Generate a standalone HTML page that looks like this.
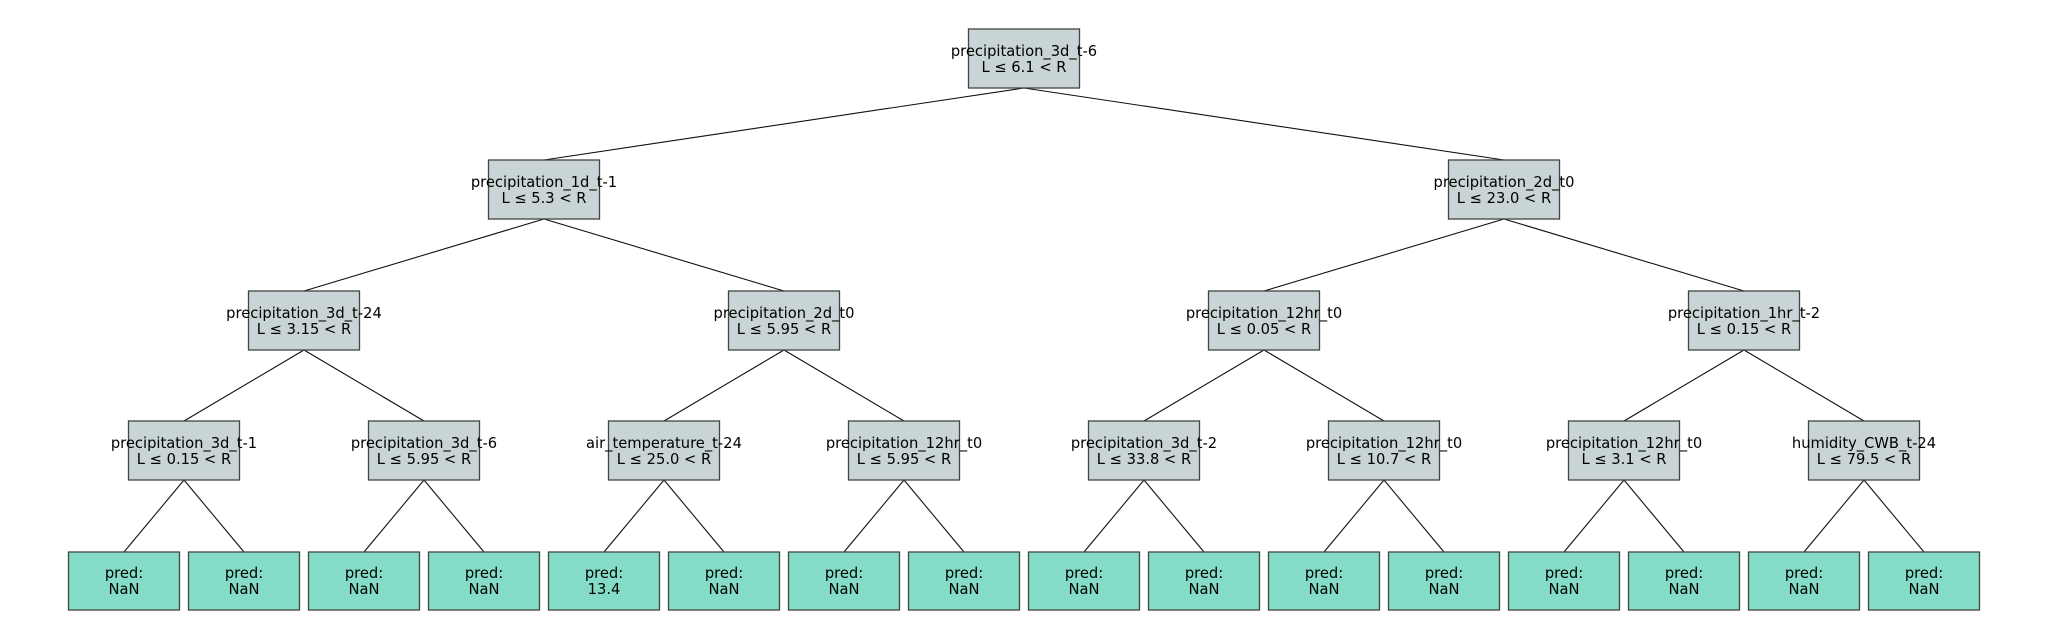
<!DOCTYPE html>
<html><head><meta charset="utf-8"><style>
html,body{margin:0;padding:0;background:#fff;}
svg{display:block;}
text{font-family:"DejaVu Sans","Liberation Sans",sans-serif;font-size:14.7px;fill:#000;text-anchor:middle;}
.g{fill:#c8d4d5;stroke:#444;stroke-width:1.3;}
.l{fill:#85dcc6;stroke:#444;stroke-width:1.3;}
line{stroke:#111;stroke-width:1.1;}
</style></head><body>
<svg width="2048" height="640" viewBox="0 0 2048 640">
<g>
<line x1="1024" y1="88" x2="544" y2="160"/><line x1="1024" y1="88" x2="1504" y2="160"/>
<line x1="544" y1="219" x2="304" y2="291"/><line x1="544" y1="219" x2="784" y2="291"/>
<line x1="1504" y1="219" x2="1264" y2="291"/><line x1="1504" y1="219" x2="1744" y2="291"/>
<line x1="304" y1="350" x2="184" y2="421"/><line x1="304" y1="350" x2="424" y2="421"/>
<line x1="784" y1="350" x2="664" y2="421"/><line x1="784" y1="350" x2="904" y2="421"/>
<line x1="1264" y1="350" x2="1144" y2="421"/><line x1="1264" y1="350" x2="1384" y2="421"/>
<line x1="1744" y1="350" x2="1624" y2="421"/><line x1="1744" y1="350" x2="1864" y2="421"/>
<line x1="184" y1="480" x2="124" y2="552"/><line x1="184" y1="480" x2="244" y2="552"/>
<line x1="424" y1="480" x2="364" y2="552"/><line x1="424" y1="480" x2="484" y2="552"/>
<line x1="664" y1="480" x2="604" y2="552"/><line x1="664" y1="480" x2="724" y2="552"/>
<line x1="904" y1="480" x2="844" y2="552"/><line x1="904" y1="480" x2="964" y2="552"/>
<line x1="1144" y1="480" x2="1084" y2="552"/><line x1="1144" y1="480" x2="1204" y2="552"/>
<line x1="1384" y1="480" x2="1324" y2="552"/><line x1="1384" y1="480" x2="1444" y2="552"/>
<line x1="1624" y1="480" x2="1564" y2="552"/><line x1="1624" y1="480" x2="1684" y2="552"/>
<line x1="1864" y1="480" x2="1804" y2="552"/><line x1="1864" y1="480" x2="1924" y2="552"/>
</g>
<!-- internal nodes -->
<rect class="g" x="968.5" y="29" width="111" height="59"/><text x="1024" y="56">precipitation_3d_t-6</text><text x="1024" y="72">L ≤ 6.1 &lt; R</text>
<rect class="g" x="488.5" y="160" width="111" height="59"/><text x="544" y="187">precipitation_1d_t-1</text><text x="544" y="203">L ≤ 5.3 &lt; R</text>
<rect class="g" x="1448.5" y="160" width="111" height="59"/><text x="1504" y="187">precipitation_2d_t0</text><text x="1504" y="203">L ≤ 23.0 &lt; R</text>
<rect class="g" x="248.5" y="291" width="111" height="59"/><text x="304" y="318">precipitation_3d_t-24</text><text x="304" y="334">L ≤ 3.15 &lt; R</text>
<rect class="g" x="728.5" y="291" width="111" height="59"/><text x="784" y="318">precipitation_2d_t0</text><text x="784" y="334">L ≤ 5.95 &lt; R</text>
<rect class="g" x="1208.5" y="291" width="111" height="59"/><text x="1264" y="318">precipitation_12hr_t0</text><text x="1264" y="334">L ≤ 0.05 &lt; R</text>
<rect class="g" x="1688.5" y="291" width="111" height="59"/><text x="1744" y="318">precipitation_1hr_t-2</text><text x="1744" y="334">L ≤ 0.15 &lt; R</text>
<rect class="g" x="128.5" y="421" width="111" height="59"/><text x="184" y="448">precipitation_3d_t-1</text><text x="184" y="464">L ≤ 0.15 &lt; R</text>
<rect class="g" x="368.5" y="421" width="111" height="59"/><text x="424" y="448">precipitation_3d_t-6</text><text x="424" y="464">L ≤ 5.95 &lt; R</text>
<rect class="g" x="608.5" y="421" width="111" height="59"/><text x="664" y="448">air_temperature_t-24</text><text x="664" y="464">L ≤ 25.0 &lt; R</text>
<rect class="g" x="848.5" y="421" width="111" height="59"/><text x="904" y="448">precipitation_12hr_t0</text><text x="904" y="464">L ≤ 5.95 &lt; R</text>
<rect class="g" x="1088.5" y="421" width="111" height="59"/><text x="1144" y="448">precipitation_3d_t-2</text><text x="1144" y="464">L ≤ 33.8 &lt; R</text>
<rect class="g" x="1328.5" y="421" width="111" height="59"/><text x="1384" y="448">precipitation_12hr_t0</text><text x="1384" y="464">L ≤ 10.7 &lt; R</text>
<rect class="g" x="1568.5" y="421" width="111" height="59"/><text x="1624" y="448">precipitation_12hr_t0</text><text x="1624" y="464">L ≤ 3.1 &lt; R</text>
<rect class="g" x="1808.5" y="421" width="111" height="59"/><text x="1864" y="448">humidity_CWB_t-24</text><text x="1864" y="464">L ≤ 79.5 &lt; R</text>
<!-- leaves -->
<rect class="l" x="68.5" y="552" width="111" height="58"/><text x="124" y="578">pred:</text><text x="124" y="594">NaN</text>
<rect class="l" x="188.5" y="552" width="111" height="58"/><text x="244" y="578">pred:</text><text x="244" y="594">NaN</text>
<rect class="l" x="308.5" y="552" width="111" height="58"/><text x="364" y="578">pred:</text><text x="364" y="594">NaN</text>
<rect class="l" x="428.5" y="552" width="111" height="58"/><text x="484" y="578">pred:</text><text x="484" y="594">NaN</text>
<rect class="l" x="548.5" y="552" width="111" height="58"/><text x="604" y="578">pred:</text><text x="604" y="594">13.4</text>
<rect class="l" x="668.5" y="552" width="111" height="58"/><text x="724" y="578">pred:</text><text x="724" y="594">NaN</text>
<rect class="l" x="788.5" y="552" width="111" height="58"/><text x="844" y="578">pred:</text><text x="844" y="594">NaN</text>
<rect class="l" x="908.5" y="552" width="111" height="58"/><text x="964" y="578">pred:</text><text x="964" y="594">NaN</text>
<rect class="l" x="1028.5" y="552" width="111" height="58"/><text x="1084" y="578">pred:</text><text x="1084" y="594">NaN</text>
<rect class="l" x="1148.5" y="552" width="111" height="58"/><text x="1204" y="578">pred:</text><text x="1204" y="594">NaN</text>
<rect class="l" x="1268.5" y="552" width="111" height="58"/><text x="1324" y="578">pred:</text><text x="1324" y="594">NaN</text>
<rect class="l" x="1388.5" y="552" width="111" height="58"/><text x="1444" y="578">pred:</text><text x="1444" y="594">NaN</text>
<rect class="l" x="1508.5" y="552" width="111" height="58"/><text x="1564" y="578">pred:</text><text x="1564" y="594">NaN</text>
<rect class="l" x="1628.5" y="552" width="111" height="58"/><text x="1684" y="578">pred:</text><text x="1684" y="594">NaN</text>
<rect class="l" x="1748.5" y="552" width="111" height="58"/><text x="1804" y="578">pred:</text><text x="1804" y="594">NaN</text>
<rect class="l" x="1868.5" y="552" width="111" height="58"/><text x="1924" y="578">pred:</text><text x="1924" y="594">NaN</text>
</svg>
</body></html>
